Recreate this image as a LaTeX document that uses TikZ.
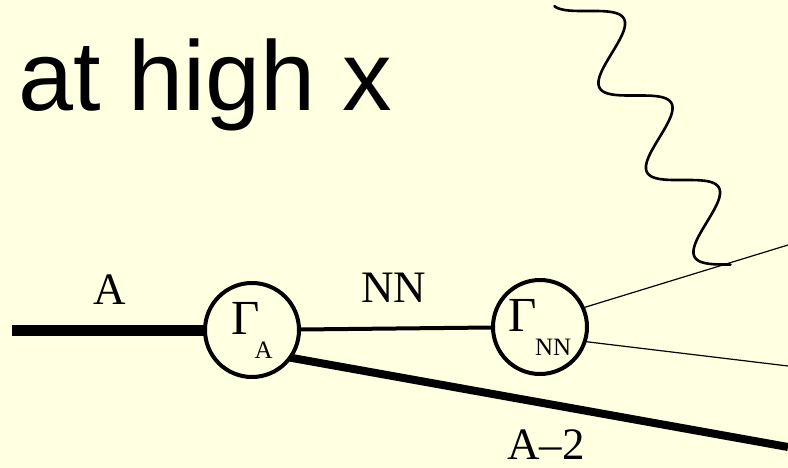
\documentclass[tikz,border=0pt]{standalone}
\usepackage{fontspec}
\setmainfont{Liberation Serif}
\newfontfamily\titlefont{Liberation Sans}
\definecolor{paper}{RGB}{255,255,225}
\tikzset{
  vertex/.style={circle, draw, line width=4pt, inner sep=0pt, outer sep=0pt, minimum size=94pt},
  lbl/.style={inner sep=0pt, font=\fontsize{45}{45}\selectfont},
  fat/.style={line width=11pt},
  heavy/.style={line width=8pt},
  mid/.style={line width=4pt},
  fine/.style={line width=1.2pt},
  photon/.style={line width=2.6pt, line cap=round}
}
\newcommand{\gam}[3]{\fontsize{49}{49}\selectfont Γ\kern#1\raisebox{-24pt}{\fontsize{#3}{#3}\selectfont #2}}

\begin{document}
\begin{tikzpicture}[x=1pt, y=-1pt]

    % Paper
    \fill[paper] (0,0) rectangle (788,468);
    \useasboundingbox (0,0) rectangle (788,468);

    % Title
    \node[anchor=base west, inner sep=0pt, font=\titlefont\fontsize{99}{99}\selectfont] (title) at (18,110.5) {at high x};

    % Vertices
    \node[vertex] (GA) at (252,330) {\gam{-5pt}{A}{25}};
    \node[vertex] (GNN) at (540,327) {\gam{-2pt}{NN}{25}};

    % Free ends
    \coordinate (inA) at (12,330);
    \coordinate (outA2) at (788,447);
    \coordinate (outUp) at (788,245);
    \coordinate (outDown) at (788,366);

    % Lines
    \draw[fat] (inA) -- (GA);
    \draw[mid] (GA) -- (GNN);
    \draw[heavy] (GA.-36) -- (outA2);
    \draw[fine] (GNN.24) -- (outUp);
    \draw[fine] (GNN.-18) -- (outDown);

    % Photon
    \draw[photon] plot[smooth, samples=180, domain=-1.35:18.85, variable=\t]
      ({588+7.56*\t+24*sin(\t r)}, {11+13.45*\t-13.6*sin(\t r)});

    % Labels
    \node[lbl] (lblA) at (110,290) {A};
    \node[lbl] (lblNN) at (394,288) {NN};
    \node[lbl] (lblA2) at (546,445) {A--2};

\end{tikzpicture}
\end{document}
